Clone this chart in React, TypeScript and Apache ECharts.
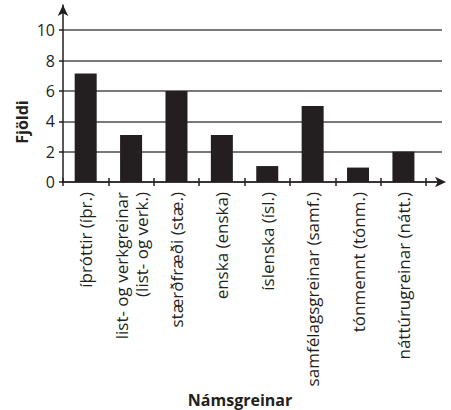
import React, { useEffect, useRef } from "react";
import * as echarts from "echarts";

const categories = [
  "íþróttir (íþr.)",
  "list- og verkgreinar\n(list- og verk.)",
  "stærðfræði (stæ.)",
  "enska (enska)",
  "íslenska (ísl.)",
  "samfélagsgreinar (samf.)",
  "tónmennt (tónm.)",
  "náttúrugreinar (nátt.)",
];
const counts = [7.15, 3.1, 6, 3.1, 1.05, 5, 0.95, 2];
const yTicks = [0, 2, 4, 6, 8, 10];
const yAxisTitle = "Fjöldi";
const xAxisTitle = "Námsgreinar";

const FONT = "'Open Sans', 'Noto Sans', sans-serif";
const INK = "#231f20";

export default function App() {
  const ref = useRef<HTMLDivElement>(null);
  useEffect(() => {
    if (!ref.current) return;
    const chart = echarts.init(ref.current, undefined, { renderer: "svg" });
    const n = categories.length;
    const xMax = 8.35;
    const yMax = 11.66;
    const boundaries = Array.from({ length: n + 1 }, (_, i) => i);
    const centers = categories.map((_, i) => i + 0.5);
    chart.setOption({
      animation: false,
      backgroundColor: "#fff",
      grid: { left: 63, right: 9, top: 5, bottom: 228, containLabel: false },
      xAxis: [
        {
          type: "value",
          min: 0,
          max: xMax,
          axisLine: {
            show: true,
            onZero: false,
            lineStyle: { color: INK, width: 1.5 },
            symbol: ["none", "arrow"],
            symbolSize: [8, 11],
            symbolOffset: [0, 4],
          },
          axisTick: {
            show: true,
            customValues: boundaries,
            length: 4,
            lineStyle: { color: INK, width: 1.5 },
          },
          axisLabel: {
            show: true,
            customValues: centers,
            rotate: 90,
            margin: 10,
            fontFamily: FONT,
            fontSize: 17,
            lineHeight: 20,
            color: INK,
            formatter: (v: number) => categories[Math.floor(v)] ?? "",
          },
          splitLine: { show: false },
        },
        {
          type: "value",
          min: 0,
          max: xMax,
          position: "bottom",
          axisLine: { show: false, onZero: false },
          axisTick: {
            show: true,
            inside: true,
            customValues: boundaries,
            length: 4,
            lineStyle: { color: INK, width: 1.5 },
          },
          axisLabel: { show: false },
          splitLine: { show: false },
        },
      ],
      yAxis: {
        type: "value",
        min: 0,
        max: yMax,
        axisLine: {
          show: true,
          lineStyle: { color: INK, width: 1.5 },
          symbol: ["none", "arrow"],
          symbolSize: [8, 11],
        },
        axisTick: {
          show: true,
          customValues: yTicks,
          length: 4,
          lineStyle: { color: INK, width: 1.5 },
        },
        axisLabel: {
          customValues: yTicks,
          margin: 8,
          fontFamily: FONT,
          fontSize: 16,
          color: INK,
        },
        splitLine: {
          show: true,
          lineStyle: { color: "#4d4d4d", width: 1.5 },
        },
      },
      graphic: [
        {
          type: "text",
          x: 22,
          y: 122,
          rotation: Math.PI / 2,
          style: {
            text: yAxisTitle,
            fontFamily: FONT,
            fontWeight: "bold",
            fontSize: 16,
            fill: INK,
            align: "center",
            verticalAlign: "middle",
          },
        },
        {
          type: "text",
          x: 240,
          y: 400,
          style: {
            text: xAxisTitle,
            fontFamily: FONT,
            fontWeight: "bold",
            fontSize: 16,
            fill: INK,
            align: "center",
            verticalAlign: "middle",
          },
        },
      ],
      series: [
        {
          type: "bar",
          xAxisIndex: 0,
          barWidth: 22,
          itemStyle: { color: INK },
          data: counts.map((c, i) => [centers[i], c]),
        },
      ],
    });
    return () => chart.dispose();
  }, []);
  return (
    <div
      ref={ref}
      style={{ position: "fixed", left: 0, top: 0, width: 451, height: 410 }}
    />
  );
}
